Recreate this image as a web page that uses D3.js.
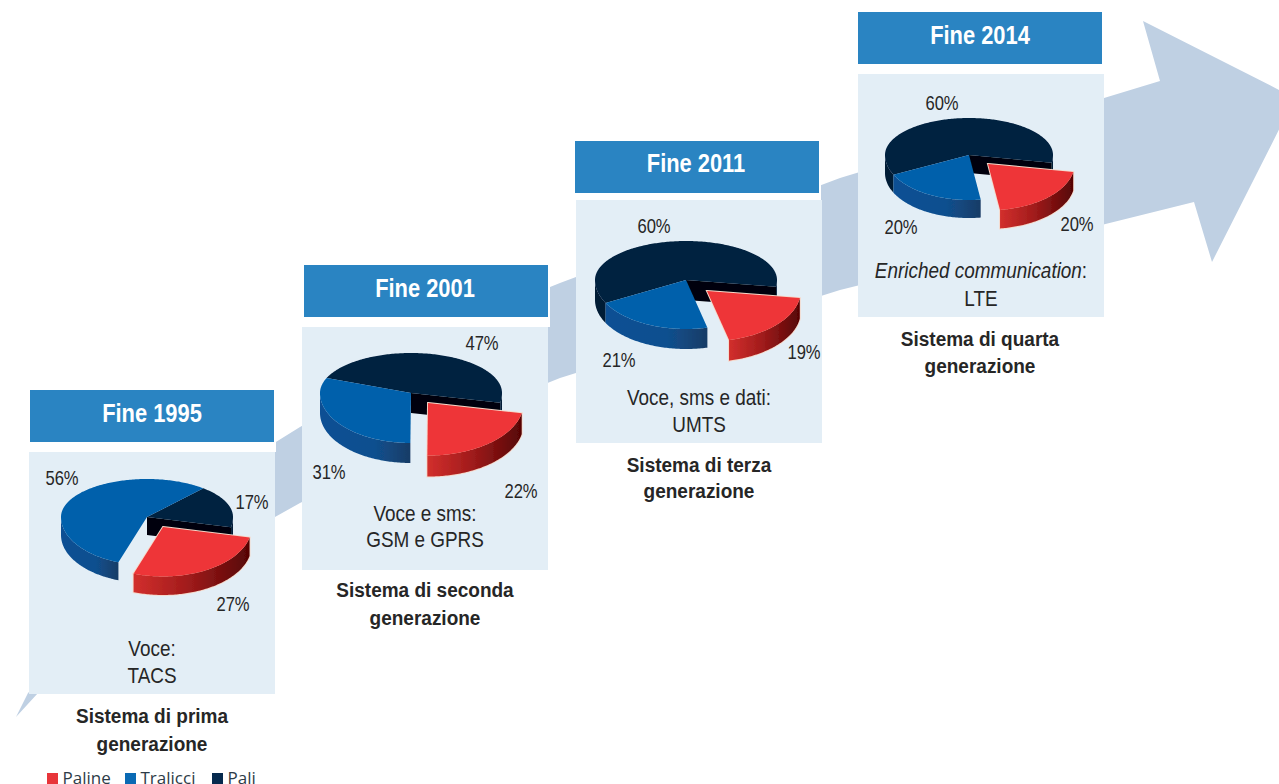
<!DOCTYPE html>
<html><head><meta charset="utf-8">
<script src="https://cdn.jsdelivr.net/npm/d3@7"></script>
<style>
html,body{margin:0;padding:0;background:#fff;overflow:hidden}
svg{display:block}
text{font-family:"Liberation Sans",Arial,sans-serif;fill:#262626}
</style></head><body>
<svg id="c" width="1279" height="784"></svg>
<script>
const categories = ["Pali","Paline","Tralicci"];
const legendOrder = ["Paline","Tralicci","Pali"];
const periods = ["Fine 1995","Fine 2001","Fine 2011","Fine 2014"];
const pali     = [17,47,60,60];
const paline   = [27,22,19,20];
const tralicci = [56,31,21,20];
const services = [["Voce:","TACS"],["Voce e sms:","GSM e GPRS"],["Voce, sms e dati:","UMTS"],["Enriched communication:","LTE"]];
const systems  = [["Sistema di prima","generazione"],["Sistema di seconda","generazione"],["Sistema di terza","generazione"],["Sistema di quarta","generazione"]];

// layout (not data)
const layout = [
 {hx:30,hy:390,hc:152,hb:422,px:29,py:452,cx:147,cy:517,rx:86,back:38,front:48,d:18,start:41,ox:16,oy:10,rs:1.03,
  lab:{Pali:[252,509],Paline:[233,611],Tralicci:[62,485]},tc:152,t1:656,t2:683,sc:152,s1:723,s2:751},
 {hx:304,hy:265,hc:425,hb:297,px:302,py:327,cx:411,cy:393,rx:91,back:40,front:50,d:20,start:292,ox:17,oy:10,rs:1.05,
  lab:{Pali:[482,350],Paline:[521,498],Tralicci:[329,479]},tc:425,t1:521,t2:547,sc:425,s1:597,s2:625},
 {hx:575,hy:141,hc:696,hb:172,px:576,py:200,cx:686,cy:280,rx:91,back:39,front:49,d:20,start:242,ox:21,oy:11,rs:1.03,
  lab:{Pali:[654,233],Paline:[804,359],Tralicci:[619,367]},tc:699,t1:405,t2:432,sc:699,s1:472,s2:498},
 {hx:858,hy:12,hc:980,hb:44,px:858,py:74,cx:969,cy:155,rx:84,back:37,front:45,d:18,start:244,ox:19,oy:9,rs:1.03,
  lab:{Pali:[942,110],Paline:[1077,231],Tralicci:[901,234]},tc:981,t1:278,t2:306,sc:980,s1:346,s2:373}
];
const arrowShape = [[16,717],[28,693],[263,450],[300,427],[535,293],[560,283],[840,178],[1160,81],[1143,21],[1295,98],[1212,262],[1194,202],[840,290],[560,378],[535,388],[300,503],[275,517],[38,693]];
const topColor = {Pali:"#03203f",Paline:"#ee3537",Tralicci:"#0560ab"};
const legendColor = {Paline:"#e8353a",Tralicci:"#0a6ab4",Pali:"#062a4e"};
const legendX = {Paline:47,Tralicci:125,Pali:212};

const svg = d3.select("#c");
const defs = svg.append("defs");
const grad=(id,stops)=>{const g=defs.append("linearGradient").attr("id",id);
  stops.forEach(([o,c])=>g.append("stop").attr("offset",o).attr("stop-color",c));};
grad("wPaline",[[0,"#d22f2d"],[.45,"#a31c1c"],[1,"#560505"]]);
grad("wTralicci",[[0,"#0b4f94"],[.6,"#10508f"],[1,"#173c66"]]);
grad("wPali",[[0,"#011a36"],[1,"#011a36"]]);
defs.append("filter").attr("id","soft").append("feGaussianBlur").attr("stdDeviation",0.6);

const label=(x,y,size,sx,anchor,opts={})=>{
  const t=svg.append("text").attr("transform",`translate(${x},${y}) scale(${sx},1)`)
    .attr("text-anchor",anchor).attr("font-size",size);
  if(opts.bold) t.attr("font-weight",700);
  if(opts.fill) t.style("fill",opts.fill);
  return t;
};

svg.append("path").attr("d",d3.line()(arrowShape)+"Z").attr("fill","#bfd0e3");

const deg=Math.PI/180;
layout.forEach((L,i)=>{
  const W=246,H=243;
  svg.append("rect").attr("x",L.hx-2).attr("y",L.hy).attr("width",W+2).attr("height",L.py-L.hy).attr("fill","#fff");
  svg.append("rect").attr("x",L.hx).attr("y",L.hy).attr("width",244).attr("height",52).attr("fill","#2a84c2");
  svg.append("rect").attr("x",L.px).attr("y",L.py).attr("width",W).attr("height",H-(i==0?1:0)).attr("fill","#e3eef6");
  label(L.hc,L.hb,25,0.875,"middle",{bold:true,fill:"#fff"}).text(periods[i]);

  const vals=[{k:"Pali",v:pali[i]},{k:"Paline",v:paline[i]},{k:"Tralicci",v:tralicci[i]}];
  const slices=d3.pie().sort(null).value(d=>d.v)
    .startAngle(L.start*deg).endAngle((L.start+360)*deg)(vals);
  const yS=d3.scaleLinear().domain([-1,0,1]).range([-L.back,0,L.front]);
  const px=a=>L.rx*Math.sin(a), py=a=>yS(-Math.cos(a));
  const samples=s=>d3.range(s.startAngle,s.endAngle,deg).concat([s.endAngle]);
  const wall=d3.area().defined(a=>Math.cos(a)<=0.02).x(px).y0(py).y1(a=>py(a)+L.d);
  const face=s=>d3.line().x(px).y(py)(samples(s)).replace(/^M/,"M0,0L")+"Z";
  const cut=a=>d3.line()([[0,0],[px(a),py(a)],[px(a),py(a)+L.d],[0,L.d]])+"Z";

  const pie=svg.append("g").attr("filter","url(#soft)").attr("transform",`translate(${L.cx},${L.cy})`);
  const draw=(g,list)=>{
    list.forEach(s=>{ if(s.data.k==="Pali") g.append("path").attr("d",cut(s.endAngle)).attr("fill","#00060f"); });
    list.forEach(s=>g.append("path").attr("d",wall(samples(s))).attr("fill",`url(#w${s.data.k})`));
    list.forEach(s=>g.append("path").attr("d",face(s)).attr("fill",topColor[s.data.k]));
  };
  draw(pie,slices.filter(s=>s.data.k!=="Paline"));
  const red=pie.append("g").attr("transform",`translate(${L.ox},${L.oy}) scale(${L.rs})`);
  const redSlice=slices.filter(s=>s.data.k==="Paline");
  redSlice.forEach(s=>{
    red.append("path").attr("d",wall(samples(s))).attr("fill","none").attr("stroke","#f6d9cb").attr("stroke-width",1.8);
    red.append("path").attr("d",face(s)).attr("fill","none").attr("stroke","#f6d9cb").attr("stroke-width",1.8);
  });
  draw(red,redSlice);

  vals.forEach(d=>{
    const [x,y]=L.lab[d.k];
    label(x,y,20,0.83,"middle").text(d.v+"%");
  });
  const sv=label(L.tc,L.t1,22,0.86,"middle");
  if(i===3){
    sv.append("tspan").attr("font-style","italic").text("Enriched communication");
    sv.append("tspan").text(":");
  } else sv.text(services[i][0]);
  label(L.tc,L.t2,22,0.86,"middle").text(services[i][1]);
  [L.s1,L.s2].forEach((y,j)=>label(L.sc,y,21,0.905,"middle",{bold:true}).text(systems[i][j]));
});

legendOrder.forEach(k=>{
  svg.append("rect").attr("x",legendX[k]).attr("y",773).attr("width",11).attr("height",11).attr("fill",legendColor[k]);
  svg.append("text").attr("x",legendX[k]+15.5).attr("y",784).attr("font-size",17)
    .style("font-family","'Open Sans',sans-serif").style("fill","#2d3b47").text(k);
});
</script></body></html>
